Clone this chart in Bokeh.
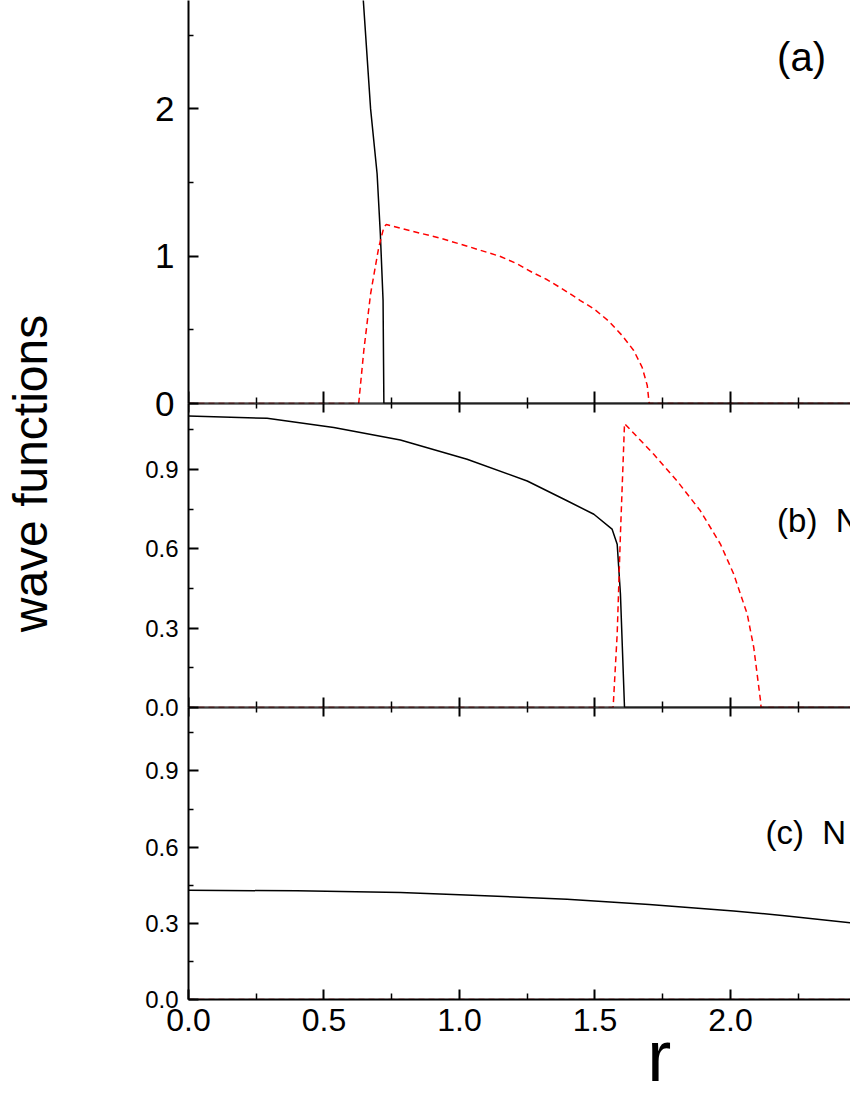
from math import pi
from bokeh.plotting import figure
from bokeh.layouts import row, column
from bokeh.models import (Range1d, LinearAxis, FixedTicker, PrintfTickFormatter, Label,
                          CustomLabelingPolicy)
from bokeh.embed import file_html
from bokeh.resources import INLINE

FONT = "Liberation Sans"

# ---------------- data ----------------
x_major = [0.0, 0.5, 1.0, 1.5, 2.0, 2.5]
x_minor = [0.25, 0.75, 1.25, 1.75, 2.25]
ya_major = [0, 1, 2]
ya_minor = [0.5, 1.5, 2.5]
ybc_major = [0.0, 0.3, 0.6, 0.9]
ybc_minor = [0.15, 0.45, 0.75, 1.05]

panel_labels = ["(a)", "(b)\u00a0\u00a0N", "(c)\u00a0\u00a0N"]
x_label = "r"
y_label = "wave functions"

# panel (a)
r_a_black = [0.0, 0.2, 0.4, 0.5, 0.6, 0.645, 0.672, 0.696, 0.708, 0.718, 0.721, 1.0, 1.5, 2.0, 2.6]
psi_a_black = [5.0, 4.95, 4.7, 4.45, 3.9, 2.74, 2.0, 1.56, 1.15, 0.70, 0.0, 0.0, 0.0, 0.0, 0.0]
r_a_red = [0.0, 0.628, 0.647, 0.672, 0.702, 0.721, 0.73, 0.782, 0.930, 1.041, 1.151, 1.213,
           1.268, 1.324, 1.385, 1.446, 1.496, 1.551, 1.600, 1.643, 1.674, 1.693, 1.700, 2.6]
psi_a_red = [0.0, 0.0, 0.36, 0.745, 1.06, 1.197, 1.215, 1.190, 1.122, 1.061, 0.998, 0.948,
             0.891, 0.840, 0.772, 0.699, 0.643, 0.559, 0.462, 0.360, 0.246, 0.122, 0.0, 0.0]

# panel (b)
r_b_black = [0.0, 0.29, 0.536, 0.782, 1.028, 1.25, 1.397, 1.496, 1.563, 1.582, 1.594, 1.609, 2.6]
psi_b_black = [1.103, 1.094, 1.059, 1.012, 0.939, 0.857, 0.782, 0.731, 0.675, 0.618, 0.429, 0.0, 0.0]
r_b_red = [0.0, 1.567, 1.582, 1.594, 1.604, 1.609, 1.717, 1.803, 1.889, 1.963, 2.012, 2.062,
           2.086, 2.111, 2.113, 2.6]
psi_b_red = [0.0, 0.0, 0.278, 0.656, 0.933, 1.074, 0.958, 0.857, 0.744, 0.618, 0.505, 0.353,
             0.227, 0.025, 0.0, 0.0]

# panel (c)
r_c_black = [0.0, 0.4, 0.782, 1.0, 1.397, 1.7, 2.012, 2.2, 2.443, 2.6]
psi_c_black = [0.430, 0.428, 0.421, 0.413, 0.395, 0.374, 0.349, 0.330, 0.302, 0.28]
r_c_red = [0.0, 2.6]
psi_c_red = [0.0, 0.0]

# ---------------- layout constants ----------------
XMAX = 2.443
FRAME_W = 662
LEFT_B = 120
LABEL_W = 68
OVER = 18
H_A, H_B, H_C = 403, 304, 292
BOT_C = 46
R_H, R_OVER = 82, 32

HIDE = CustomLabelingPolicy(code="for (const i of indices) { indices.unset(i) } return indices")


def style_axis(ax, tick_in, minor_in, label_size, standoff):
    ax.axis_line_width = 2
    ax.axis_line_color = "black"
    ax.major_tick_line_width = 2
    ax.minor_tick_line_width = 1.5
    ax.major_tick_line_color = "black"
    ax.minor_tick_line_color = "black"
    ax.major_tick_in = tick_in
    ax.major_tick_out = 0
    ax.minor_tick_in = minor_in
    ax.minor_tick_out = 0
    ax.major_label_text_font = FONT
    ax.major_label_text_font_size = label_size
    ax.major_label_text_color = "black"
    ax.major_label_standoff = standoff


def hidden_axis(tick_in, minor_in, loc):
    ax = LinearAxis(ticker=FixedTicker(ticks=x_major, minor_ticks=x_minor),
                    formatter=PrintfTickFormatter(format="%.1f"), fixed_location=loc)
    style_axis(ax, tick_in, minor_in, "1px", 0)
    ax.major_label_policy = HIDE
    return ax


def make_panel(frame_h, ymax, ymaj, ymin, yfmt, ylab_size, ylab_standoff,
               top_in, bottom_in, bottom_labels, border_bottom, margin_top, transparent):
    p = figure(frame_width=FRAME_W, frame_height=frame_h,
               x_range=Range1d(0, XMAX), y_range=Range1d(0, ymax),
               x_axis_location=None, y_axis_location=None,
               toolbar_location=None, output_backend="svg",
               min_border_left=LEFT_B, min_border_right=0, min_border_top=0,
               min_border_bottom=border_bottom)
    p.outline_line_color = None
    p.grid.visible = False
    if transparent:
        p.background_fill_color = None
        p.border_fill_color = None
    if margin_top:
        p.margin = (margin_top, 0, 0, 0)

    yax = LinearAxis(ticker=FixedTicker(ticks=ymaj, minor_ticks=ymin),
                     formatter=PrintfTickFormatter(format=yfmt))
    style_axis(yax, 10, 5, ylab_size, ylab_standoff)
    p.add_layout(yax, "left")

    if bottom_labels:
        bax = LinearAxis(ticker=FixedTicker(ticks=x_major, minor_ticks=x_minor),
                         formatter=PrintfTickFormatter(format="%.1f"))
        style_axis(bax, bottom_in, 6, "32px", 9)
    else:
        bax = hidden_axis(bottom_in, 6, 0)
    p.add_layout(bax, "below")

    if top_in:
        p.add_layout(hidden_axis(top_in, 5, ymax), "above")
    return p


def add_curves(p, rb, yb, rr, yr):
    p.line(rb, yb, line_color="black", line_width=1.5)
    p.line(rr, yr, line_color="red", line_width=1.5, line_dash="6 4")


def panel_label(p, x, y, text, size):
    p.add_layout(Label(x=x, y=y, text=text, text_font=FONT, text_font_size=size,
                       text_color="black", text_align="left", text_baseline="middle"))


# panel (a)
pa = make_panel(H_A, H_A / 147.3, ya_major, ya_minor, "%d", "35px", 14,
                None, 12, False, OVER, None, False)
add_curves(pa, r_a_black, psi_a_black, r_a_red, psi_a_red)
panel_label(pa, 2.172, 2.351, panel_labels[0], "40px")

# panel (b)
pb = make_panel(H_B, 1.15, ybc_major, ybc_minor, "%.1f", "24px", 10,
                9, 10, False, OVER, -OVER, True)
add_curves(pb, r_b_black, psi_b_black, r_b_red, psi_b_red)
panel_label(pb, 2.172, 0.706, panel_labels[1], "33px")

# panel (c)
pc = make_panel(H_C, 1.15, ybc_major, ybc_minor, "%.1f", "24px", 10,
                9, 10, True, BOT_C, -OVER, True)
add_curves(pc, r_c_black, psi_c_black, r_c_red, psi_c_red)
panel_label(pc, 2.129, 0.658, panel_labels[2], "33px")

# transparent strip carrying the x-axis title, overlapping the bottom of panel c
rf = figure(width=LEFT_B + FRAME_W, height=R_H, x_range=Range1d(0, LEFT_B + FRAME_W),
            y_range=Range1d(0, R_H), x_axis_location=None, y_axis_location=None,
            toolbar_location=None, output_backend="svg", min_border=0)
rf.outline_line_color = None
rf.grid.visible = False
rf.background_fill_color = None
rf.border_fill_color = None
rf.margin = (-R_OVER, 0, 0, 0)
RF_TOP = H_A + H_B + H_C + BOT_C - R_OVER
rf.add_layout(Label(x=610 - LABEL_W, y=R_H - (1055 - RF_TOP),
                    text=x_label, text_font=FONT, text_font_size="72px", text_color="black",
                    text_align="left", text_baseline="middle"))

TOTAL_H = RF_TOP + R_H
lf = figure(width=LABEL_W, height=TOTAL_H, x_range=Range1d(0, LABEL_W), y_range=Range1d(0, TOTAL_H),
            x_axis_location=None, y_axis_location=None, toolbar_location=None,
            output_backend="svg", min_border=0)
lf.outline_line_color = None
lf.grid.visible = False
lf.add_layout(Label(x=30, y=TOTAL_H - 473, text=y_label, angle=pi / 2, text_font=FONT,
                    text_font_size="48px", text_color="black",
                    text_align="center", text_baseline="alphabetic"))

layout = row(lf, column(pa, pb, pc, rf))

open("out.html", "w").write(file_html(layout, INLINE))
